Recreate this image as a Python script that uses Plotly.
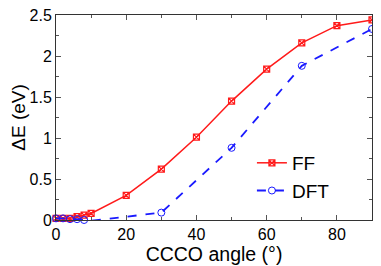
import plotly.graph_objects as go

ff_x = [0, 2, 4, 6, 8, 10, 20, 30, 40, 50, 60, 70, 80, 90]
ff_y = [0.02, 0.02, 0.02, 0.04, 0.06, 0.08, 0.30, 0.62, 1.01, 1.45, 1.84, 2.16, 2.37, 2.44]
dft_x = [0, 2, 4, 6, 8, 10, 30, 50, 70, 90]
dft_y = [0.02, 0.02, 0.01, 0.01, 0.0, -0.01, 0.09, 0.88, 1.88, 2.33]

fig = go.Figure()
fig.add_trace(go.Scatter(x=ff_x, y=ff_y, name="FF", mode="lines+markers",
                         line=dict(color="#ff1a1a", width=1.5),
                         marker=dict(symbol="square-x-open", size=6, color="#ff1a1a", line=dict(width=1.2)),
                         cliponaxis=False))
fig.add_trace(go.Scatter(x=dft_x, y=dft_y, name="DFT", mode="lines+markers",
                         line=dict(color="#1a1aff", width=1.8, dash="dash"),
                         marker=dict(symbol="circle-open", size=7, color="#1a1aff", line=dict(width=1)),
                         cliponaxis=False))

font = "Liberation Sans, Arial, sans-serif"
axcommon = dict(showline=True, linecolor="#333333", linewidth=1, mirror="ticks",
                ticks="inside", tickcolor="#555555", ticklen=5, tickwidth=1,
                showgrid=False, zeroline=False, automargin=False, ticklabeloverflow="allow",
                tickfont=dict(family=font, size=16, color="black"))
fig.update_xaxes(range=[0, 90], tickvals=[0, 20, 40, 60, 80],
                 minor=dict(tickvals=[10, 30, 50, 70], ticks="inside", ticklen=3, tickcolor="#555555"),
                 title=dict(text="CCCO angle (°)", font=dict(family=font, size=19.5, color="black"), standoff=0),
                 **axcommon)
fig.update_yaxes(range=[0, 2.5], tickvals=[0, 0.5, 1, 1.5, 2, 2.5], ticktext=["0", "0.5", "1", "1.5", "2", "2.5"],
                 minor=dict(tickvals=[0.25, 0.75, 1.25, 1.75, 2.25], ticks="inside", ticklen=3, tickcolor="#555555"),
                 title=dict(text="ΔE (eV)", font=dict(family=font, size=19, color="black"), standoff=2),
                 **axcommon)
fig.update_layout(width=373, height=258, margin=dict(l=48, r=9, t=7, b=46),
                  paper_bgcolor="white", plot_bgcolor="white",
                  legend=dict(x=0.62, y=0.21, xanchor="left", yanchor="middle",
                              bgcolor="rgba(0,0,0,0)", font=dict(family=font, size=19, color="black"),
                              tracegroupgap=0, itemwidth=30))
fig.write_html("out.html")
